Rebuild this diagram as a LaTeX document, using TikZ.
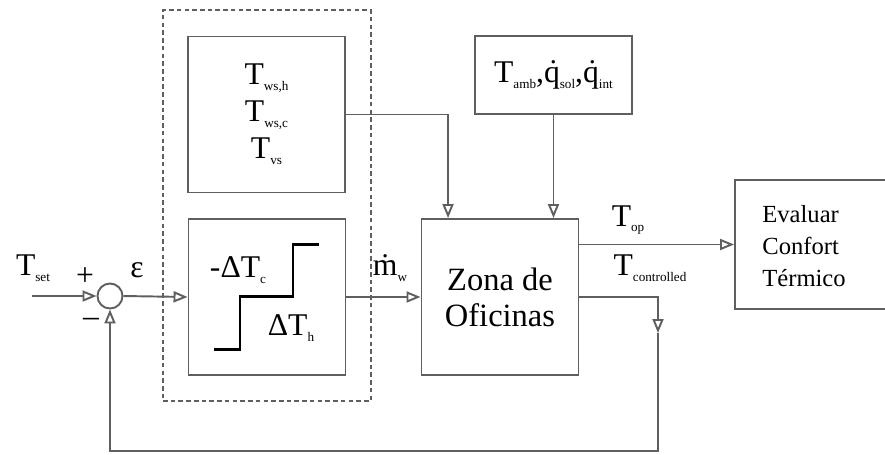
\documentclass[tikz,border=0pt]{standalone}
\usepackage{fontspec}
\setmainfont{Liberation Serif}
\usepackage{tikz}
\usetikzlibrary{arrows.meta,positioning,calc}
\definecolor{bwgray}{RGB}{95,95,95}
\newcommand{\bigfont}{\fontsize{18}{21}\selectfont}
\newcommand{\zonafont}{\fontsize{18.5}{20.5}\selectfont}
\newcommand{\evalfont}{\fontsize{14}{18.2}\selectfont}
\newcommand{\lo}[1]{\raisebox{-0.4ex}{\fontsize{7.5}{8}\selectfont #1}}
\begin{document}
\begin{tikzpicture}[
  x=0.02cm,y=-0.02cm,
  blk/.style={draw=bwgray,line width=1.1pt,minimum width=3.14cm,minimum height=3.12cm,font=\bigfont,align=center},
  sumc/.style={draw=bwgray,line width=1.1pt,circle,minimum size=0.5cm,inner sep=0pt},
  sig/.style={draw=bwgray,line width=1.1pt,-{Triangle[open,length=2.8mm,width=2.2mm]}},
  stair/.style={draw=black,line width=1.7pt},
  lbl/.style={font=\bigfont,inner sep=0pt},
]
  \useasboundingbox (0,0) rectangle (885,454);
  \node[draw=bwgray,dashed,line width=1pt,dash pattern=on 2.6pt off 1.8pt,minimum width=4.16cm,minimum height=7.82cm] (ctrl) at (267,205.5) {};
  \node[blk] (setp) at (266.5,114.5) {T\lo{ws,h}\\T\lo{ws,c}\\T\lo{vs}};
  \node[blk] (relay) at (267,297) {};
  \node[blk,font=\zonafont] (zona) at (500,297) {Zona de\\Oficinas};
  \node[blk,minimum height=1.56cm] (amb) at (553.5,75) {T\lo{amb},\.q\lo{sol},\.q\lo{int}};
  \node[blk,minimum width=3.4cm,minimum height=2.58cm] (eval) at (820,244.5) {};
  \node[font=\evalfont,align=left,anchor=west,inner sep=0pt] (evaltxt) at (762,246) {Evaluar\\Confort\\Térmico};
  \node[sumc] (sum) at (110,296) {};
  \draw[stair] (214,349) -- (240,349) -- (240,296) -- (293,296) -- (293,244) -- (319,244);
  \node[lbl] (dtc) at (238,270) {-ΔT\lo{c}};
  \node[lbl] (dth) at (291,328) {ΔT\lo{h}};
  \node[lbl] (tsetlbl) at (33,268) {T\lo{set}};
  \node[lbl] (plus) at (85,277) {+};
  \node[lbl] (minus) at (91,322) {–};
  \node[lbl] (epslbl) at (137,270) {ε};
  \node[lbl] (mwlbl) at (390,268) {\.m\lo{w}};
  \node[lbl] (toplbl) at (628,220) {T\lo{op}};
  \node[lbl] (tclbl) at (650,268) {T\lo{controlled}};
  \coordinate (tsetin) at (32,296);
  \coordinate (fbtap) at (658,333);
  \coordinate (fbend) at (658,451);
  \draw[sig] (tsetin) -- (sum.west);
  \draw[sig] (sum.east) -- (relay.west);
  \draw[sig] (relay.east) -- (zona.west);
  \draw[sig] (setp.east) -| ([xshift=0.55cm]zona.north west);
  \draw[sig] (amb.south) -- (amb.south |- zona.north);
  \draw[sig] (zona.east |- eval.west) -- (eval.west);
  \draw[sig] (zona.east) -| (fbtap);
  \draw[sig] (fbtap) -- (fbend) -| (sum.south);
\end{tikzpicture}
\end{document}
